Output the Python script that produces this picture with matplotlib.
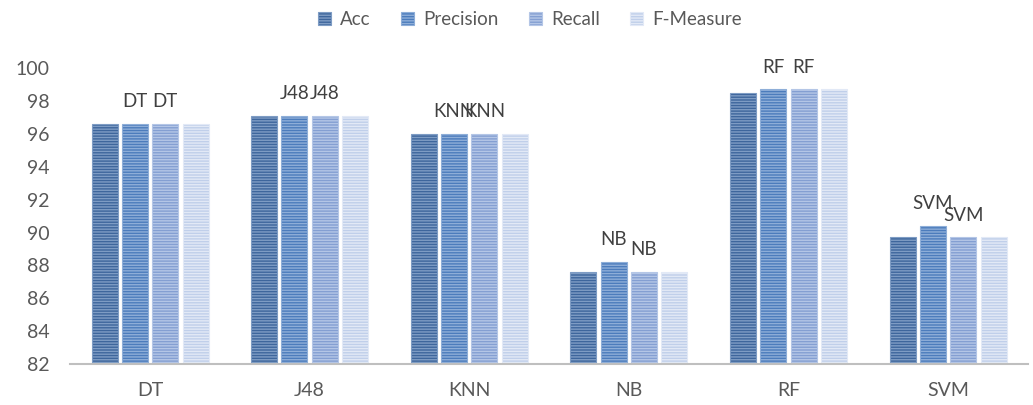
import matplotlib.pyplot as plt
import numpy as np

plt.rcParams['font.family'] = ['Lato', 'DejaVu Sans']
plt.rcParams['hatch.linewidth'] = 1.0

# accuracy metrics per classifier (%)
classifiers = ['DT', 'J48', 'KNN', 'NB', 'RF', 'SVM']
acc = [96.6, 97.1, 96.0, 87.6, 98.5, 89.7]
precision = [96.6, 97.1, 96.0, 88.2, 98.7, 90.4]
recall = [96.6, 97.1, 96.0, 87.6, 98.7, 89.7]
f_measure = [96.6, 97.1, 96.0, 87.6, 98.7, 89.7]

series = [('Acc', acc), ('Precision', precision), ('Recall', recall), ('F-Measure', f_measure)]
faces = ['#3e669c', '#4c7cbc', '#849fd2', '#c0cfea']
stripes = ['#7e9cc4', '#8eaed8', '#b4c6e6', '#e2e9f6']
labelled = ['Precision', 'Recall']

fig = plt.figure(figsize=(10.33, 4.05), dpi=100)
ax = fig.add_axes([0.068, 0.101, 0.927, 0.731])

x = np.arange(len(classifiers))
width = 0.163
step = 0.19
for i, (name, vals) in enumerate(series):
    pos = x + (i - 1.5) * step
    bars = ax.bar(pos, np.array(vals) - 82, width, bottom=82, color=faces[i],
                  edgecolor=stripes[i], hatch='------', linewidth=0.8, label=name)
    if name in labelled:
        for b, cat in zip(bars, classifiers):
            ax.annotate(cat, (b.get_x() + b.get_width() / 2, b.get_y() + b.get_height()),
                        xytext=(0, 10), textcoords='offset points', ha='center', va='bottom',
                        fontsize=13.5, color='#404040')

ax.set_xlim(-0.5, len(classifiers) - 0.5)
ax.set_ylim(82, 100)
ax.set_yticks(np.arange(82, 101, 2))
ax.set_xticks(x)
ax.set_xticklabels(classifiers)
ax.tick_params(axis='both', length=0, labelsize=14, colors='#595959')
ax.tick_params(axis='x', pad=13)
ax.tick_params(axis='y', pad=15)
for s in ['top', 'right', 'left']:
    ax.spines[s].set_visible(False)
ax.spines['bottom'].set_color('#bfbfbf')
ax.spines['bottom'].set_linewidth(1.5)

leg = fig.legend(loc='upper center', bbox_to_anchor=(0.513, 1.015), ncol=4, frameon=False,
                 fontsize=13.5, handlelength=0.7, handleheight=0.7, columnspacing=1.6,
                 handletextpad=0.5)
for t in leg.get_texts():
    t.set_color('#595959')

fig.savefig('out.png', dpi=100)
